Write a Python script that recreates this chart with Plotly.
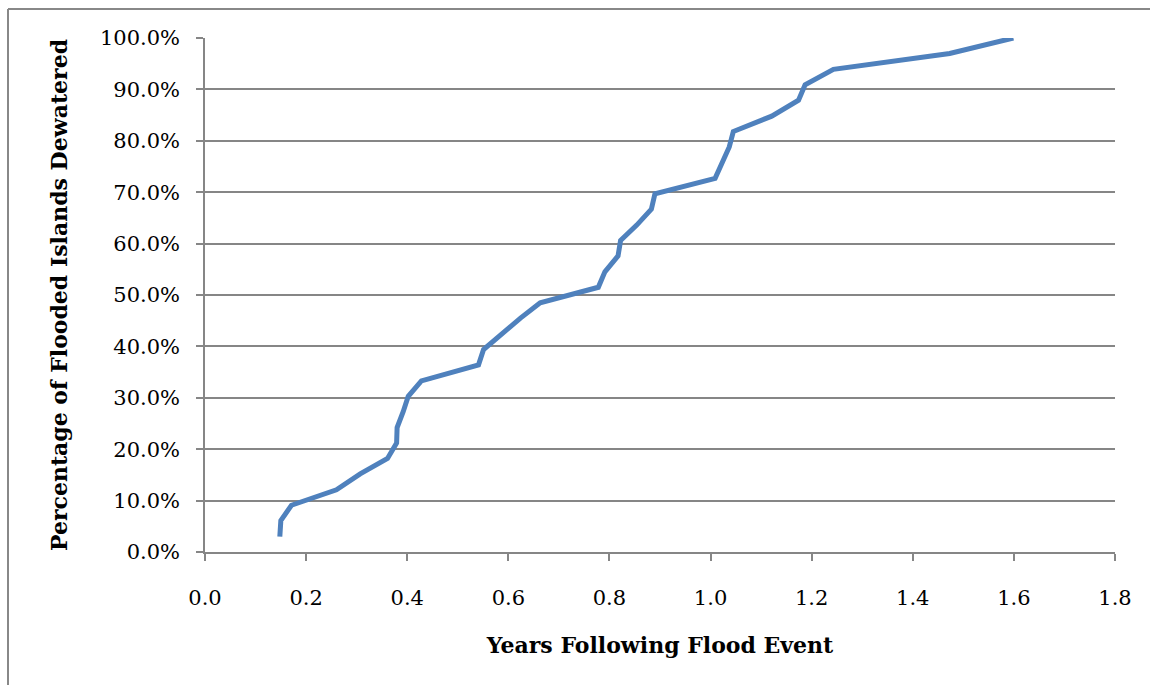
import plotly.graph_objects as go

# years after the flood event when each island was dewatered
years = [0.148, 0.150, 0.171, 0.260, 0.307, 0.361, 0.379, 0.380, 0.392, 0.402,
         0.428, 0.541, 0.551, 0.586, 0.624, 0.663, 0.778, 0.791, 0.817, 0.822,
         0.854, 0.883, 0.890, 1.009, 1.022, 1.037, 1.045, 1.121, 1.174, 1.187,
         1.243, 1.473, 1.599]
# cumulative share of flooded islands dewatered
pct_dewatered = [0.030, 0.061, 0.091, 0.121, 0.152, 0.182, 0.212, 0.242, 0.273, 0.303,
                 0.333, 0.364, 0.394, 0.424, 0.455, 0.485, 0.515, 0.545, 0.576, 0.606,
                 0.636, 0.667, 0.697, 0.727, 0.758, 0.788, 0.818, 0.848, 0.879, 0.909,
                 0.939, 0.970, 1.000]

x_ticks = [0.0, 0.2, 0.4, 0.6, 0.8, 1.0, 1.2, 1.4, 1.6, 1.8]
y_ticks = [0.0, 0.1, 0.2, 0.3, 0.4, 0.5, 0.6, 0.7, 0.8, 0.9, 1.0]

FONT = "DejaVu Serif"
GRID = "#868686"

fig = go.Figure()
fig.add_trace(go.Scatter(x=years, y=pct_dewatered, mode="lines",
                         line=dict(color="#4F81BD", width=5),
                         showlegend=False, hoverinfo="x+y"))

# plot area in pixels: left 205, right 1115, top 38, bottom 552
L, R, T, B = 205, 1115, 38, 552
W, H = 1150, 685

def px_x(p):
    return (p - L) / (R - L)

def px_y(p):
    return (B - p) / (B - T)

fig.update_layout(
    width=W, height=H,
    margin=dict(l=L, r=W - R, t=T, b=H - B),
    paper_bgcolor="white", plot_bgcolor="white",
    font=dict(family=FONT, size=21, color="black"),
    xaxis=dict(range=[0, 1.8], tickvals=x_ticks, tickformat=".1f",
               showgrid=False, showline=True, linecolor=GRID, linewidth=1.5,
               ticks="outside", ticklen=7, tickcolor=GRID, tickwidth=1.5,
               ticklabelstandoff=19, zeroline=False,
               title=dict(text="<b>Years Following Flood Event</b>", standoff=29,
                          font=dict(family=FONT, size=22))),
    yaxis=dict(range=[0, 1.0], tickvals=y_ticks, tickformat=".1%",
               showgrid=True, gridcolor=GRID, gridwidth=1.5,
               showline=True, linecolor=GRID, linewidth=1.5,
               ticks="outside", ticklen=7, tickcolor=GRID, tickwidth=1.5,
               ticklabelstandoff=12, zeroline=False,
               title=dict(text="<b>Percentage of Flooded Islands Dewatered</b>", standoff=26,
                          font=dict(family=FONT, size=22))),
    shapes=[
        dict(type="line", xref="paper", yref="paper",
             x0=px_x(8), x1=px_x(W + 5), y0=px_y(9), y1=px_y(9),
             line=dict(color="#888888", width=2)),
        dict(type="line", xref="paper", yref="paper",
             x0=px_x(8), x1=px_x(8), y0=px_y(9), y1=px_y(H + 5),
             line=dict(color="#888888", width=2)),
    ],
)

fig.write_html("out.html", config={"displayModeBar": False},
               post_script="document.body.style.margin='0';")
